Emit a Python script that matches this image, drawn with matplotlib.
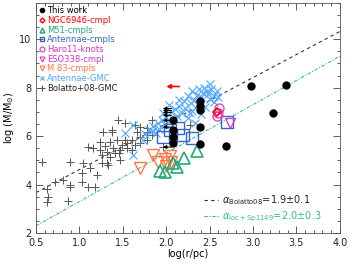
import numpy as np
import matplotlib
matplotlib.use('Agg')
import matplotlib.pyplot as plt
from matplotlib.lines import Line2D
from matplotlib.ticker import MultipleLocator

plt.rcParams['font.family'] = ['DejaVu Sans']

# --- data (log r [pc], log M [Msun]) ---
this_work_r = [2.08, 2.08, 2.08, 2.08, 2.39, 2.39, 2.39, 2.39, 2.39, 2.69, 2.98, 3.38, 3.23]
this_work_m = [6.65, 6.25, 5.95, 5.72, 7.45, 7.25, 7.08, 6.38, 5.68, 5.58, 8.05, 8.12, 6.95]

# upper limits in radius (arrows pointing left)
lim_r = [2.06, 2.06, 2.06, 2.06, 2.06, 2.06, 2.06]
lim_m = [7.14, 7.06, 6.98, 6.86, 6.65, 6.37, 5.55]

ngc6946_r = [2.59]
ngc6946_m = [6.98]
ngc6946_lim_r = [2.15]
ngc6946_lim_m = [8.05]

m51_r = [2.35, 2.20, 2.08, 1.99, 1.93, 2.12]
m51_m = [5.40, 5.08, 4.88, 4.50, 4.58, 4.72]

ant_cl_r = [1.96, 2.04, 2.13, 2.19, 2.30, 2.70]
ant_cl_m = [5.96, 6.24, 6.33, 6.04, 5.92, 6.59]

haro11_r = [2.61, 2.58, 2.60]
haro11_m = [7.15, 6.82, 6.95]

eso338_r = [2.73]
eso338_m = [6.53]

m83_r = [1.85, 1.90, 1.98, 2.04, 1.70, 2.00, 2.06]
m83_m = [5.22, 4.95, 5.05, 5.20, 4.70, 4.75, 4.95]

ant_gmc_r = [2.50, 2.52, 2.38, 2.30, 2.42, 2.48, 2.35, 2.25, 2.40, 2.50, 2.32, 2.20,
             2.28, 2.36, 2.15, 2.22, 2.10, 2.30, 2.05, 2.18, 2.12, 2.00, 2.08, 1.95,
             2.25, 2.40, 2.45, 2.55, 2.60, 2.58, 1.90, 1.98, 1.85, 1.92, 1.80, 1.88,
             1.75, 1.83, 1.62, 1.52, 1.73, 1.62, 2.33, 2.27, 2.44, 2.15, 2.03, 1.96,
             2.47, 2.55]
ant_gmc_m = [8.15, 7.95, 7.95, 7.85, 7.80, 7.75, 7.70, 7.65, 7.60, 7.55, 7.50, 7.45,
             7.35, 7.30, 7.25, 7.15, 7.10, 7.05, 7.00, 6.95, 6.85, 6.80, 6.70, 6.65,
             6.75, 6.90, 7.20, 7.40, 7.60, 7.88, 6.55, 6.45, 6.40, 6.30, 6.25, 6.15,
             6.10, 6.20, 6.45, 6.12, 5.84, 5.22, 6.55, 6.95, 8.00, 7.50, 7.30, 6.95,
             7.85, 7.65]

bolatto_r = [0.57, 0.89, 1.04, 1.12, 1.20, 1.03, 1.03, 1.18, 0.72, 0.81, 0.89, 0.89,
             0.63, 0.64, 0.63, 0.87, 1.10, 1.33, 1.26, 1.24, 1.26, 1.32, 1.35, 1.41,
             1.39, 1.47, 1.49, 1.55, 1.60, 1.64, 1.70, 1.70, 1.78, 1.83, 1.35, 1.43,
             1.24, 1.16, 1.10, 1.32, 1.52, 1.66, 1.78, 1.47, 1.27, 1.37, 1.55, 1.60,
             1.44, 1.52, 1.64, 1.70, 1.37, 1.78, 1.83, 2.27, 1.96, 1.29, 1.45]
bolatto_m = [4.94, 4.94, 4.90, 4.69, 4.41, 4.49, 4.12, 3.92, 4.12, 4.20, 4.00, 3.88,
             3.80, 3.47, 3.27, 3.31, 3.88, 4.82, 4.90, 5.43, 5.22, 5.35, 5.14, 5.31,
             5.51, 5.43, 5.63, 5.71, 5.84, 5.63, 5.96, 5.71, 5.84, 6.04, 5.76, 5.84,
             5.76, 5.51, 5.55, 4.90, 5.84, 6.16, 6.16, 5.02, 6.16, 6.24, 5.51, 5.43,
             6.65, 6.53, 6.45, 6.37, 6.16, 6.33, 6.65, 6.45, 5.55, 5.60, 5.30]

# power-law fits: log M = slope * log r + intercept
fit_bolatto = (1.9, 2.72)
fit_loc = (2.0, 1.30)

c_green = '#2fbf86'
c_m51 = '#22aa77'
c_blue = '#3366cc'
c_mag = '#dd33cc'
c_orange = '#ff7744'
c_lblue = '#4da6ff'
c_gray = '#555555'

fig = plt.figure(figsize=(3.54, 2.66), dpi=100)
ax = fig.add_axes([0.102, 0.124, 0.858, 0.865])

xx = np.array([0.5, 4.0])
ax.plot(xx, fit_bolatto[0] * xx + fit_bolatto[1], color='#333333', lw=0.8,
        dashes=(3, 3), zorder=1)
ax.plot(xx, fit_loc[0] * xx + fit_loc[1], color=c_green, lw=0.8,
        dashes=(3, 1.5, 1, 1.5), zorder=1)

ax.plot(bolatto_r, bolatto_m, '+', color=c_gray, ms=6, mew=0.7, ls='none', zorder=2)
ax.plot(ant_gmc_r, ant_gmc_m, 'x', color=c_lblue, ms=6, mew=0.8, ls='none', zorder=2)
ax.plot(m83_r, m83_m, 'v', mfc='none', mec=c_orange, ms=8, mew=1.0, ls='none', zorder=3)
ax.plot(m51_r, m51_m, '^', mfc='none', mec=c_m51, ms=8, mew=1.2, ls='none', zorder=3)
ax.plot(ant_cl_r, ant_cl_m, 's', mfc='none', mec=c_blue, ms=8, mew=1.0, ls='none', zorder=3)
ax.plot(haro11_r, haro11_m, 'o', mfc='none', mec=c_mag, ms=6.5, mew=0.9, ls='none', zorder=3)
ax.plot(eso338_r, eso338_m, 'v', mfc='none', mec=c_mag, ms=7, mew=0.9, ls='none', zorder=3)
ax.plot(ngc6946_r, ngc6946_m, 'D', mfc='none', mec='red', ms=4.5, mew=1.2, ls='none', zorder=4)
ax.plot(this_work_r, this_work_m, 'o', color='black', ms=5, ls='none', zorder=5)

for r, m in zip(lim_r, lim_m):
    ax.annotate('', xy=(r - 0.1, m), xytext=(r, m),
                arrowprops=dict(arrowstyle='-|>', color='black', lw=0.8,
                                mutation_scale=5, shrinkA=0, shrinkB=0), zorder=5)
for r, m in zip(ngc6946_lim_r, ngc6946_lim_m):
    ax.annotate('', xy=(r - 0.15, m), xytext=(r, m),
                arrowprops=dict(arrowstyle='-|>', color='red', lw=1.2,
                                mutation_scale=6, shrinkA=0, shrinkB=0), zorder=5)

ax.set_xlim(0.5, 4.0)
ax.set_ylim(2.0, 11.5)
ax.xaxis.set_major_locator(MultipleLocator(0.5))
ax.xaxis.set_minor_locator(MultipleLocator(0.1))
ax.yaxis.set_major_locator(MultipleLocator(2))
ax.yaxis.set_minor_locator(MultipleLocator(0.5))
ax.tick_params(which='both', direction='in', top=True, right=True,
               labelsize=7, width=0.6, colors='#444444', labelcolor='#222222')
ax.tick_params(which='major', length=5)
ax.tick_params(which='minor', length=2.5)
for s in ax.spines.values():
    s.set_color('#555555')
    s.set_linewidth(0.6)

ax.set_xlabel('log(r/pc)', fontsize=7, labelpad=1)
ax.set_ylabel(r'log (M/M$_{\odot}$)', fontsize=7, labelpad=2)

# legend of samples
handles = [
    Line2D([], [], marker='o', color='black', ms=3, ls='none'),
    Line2D([], [], marker='D', mfc='none', mec='red', ms=2.5, mew=1, ls='none'),
    Line2D([], [], marker='^', mfc='none', mec=c_m51, ms=3.5, mew=1, ls='none'),
    Line2D([], [], marker='s', mfc='none', mec=c_blue, ms=3.5, mew=1, ls='none'),
    Line2D([], [], marker='o', mfc='none', mec=c_mag, ms=3.5, mew=0.8, ls='none'),
    Line2D([], [], marker='v', mfc='none', mec=c_mag, ms=3.5, mew=0.8, ls='none'),
    Line2D([], [], marker='v', mfc='none', mec=c_orange, ms=3.5, mew=0.8, ls='none'),
    Line2D([], [], marker='x', color=c_lblue, ms=3.5, mew=0.8, ls='none'),
    Line2D([], [], marker='+', color=c_gray, ms=4, mew=0.8, ls='none'),
]
labels = ['This work', 'NGC6946-cmpl', 'M51-cmpls', 'Antennae-cmpls', 'Haro11-knots',
          'ESO338-cmpl', 'M 83-cmpls', 'Antennae-GMC', 'Bolatto+08-GMC']
lab_colors = ['black', 'red', c_m51, c_blue, c_mag, c_mag, c_orange, c_lblue, '#222222']
leg = ax.legend(handles, labels, loc='upper left', fontsize=6, frameon=False,
                handlelength=0.6, handletextpad=0.3, labelspacing=0.08,
                borderaxespad=0.2, borderpad=0.2)
for t, c in zip(leg.get_texts(), lab_colors):
    t.set_color(c)
ax.add_artist(leg)

# legend of fits
fit_handles = [
    Line2D([], [], color='#333333', lw=0.8, dashes=(3, 3)),
    Line2D([], [], color=c_green, lw=0.8, dashes=(3, 1.5, 1, 1.5)),
]
fit_labels = [r'$\alpha_{\rm Bolatto08}$=1.9$\pm$0.1',
              r'$\alpha_{\rm loc+Sp1149}$=2.0$\pm$0.3']
leg2 = ax.legend(fit_handles, fit_labels, loc='lower right', fontsize=7, frameon=False,
                 handlelength=1.4, handletextpad=0.5, labelspacing=0.25,
                 bbox_to_anchor=(0.97, 0.0))
for t, c in zip(leg2.get_texts(), ['#222222', c_green]):
    t.set_color(c)

fig.savefig('out.png', dpi=100)
